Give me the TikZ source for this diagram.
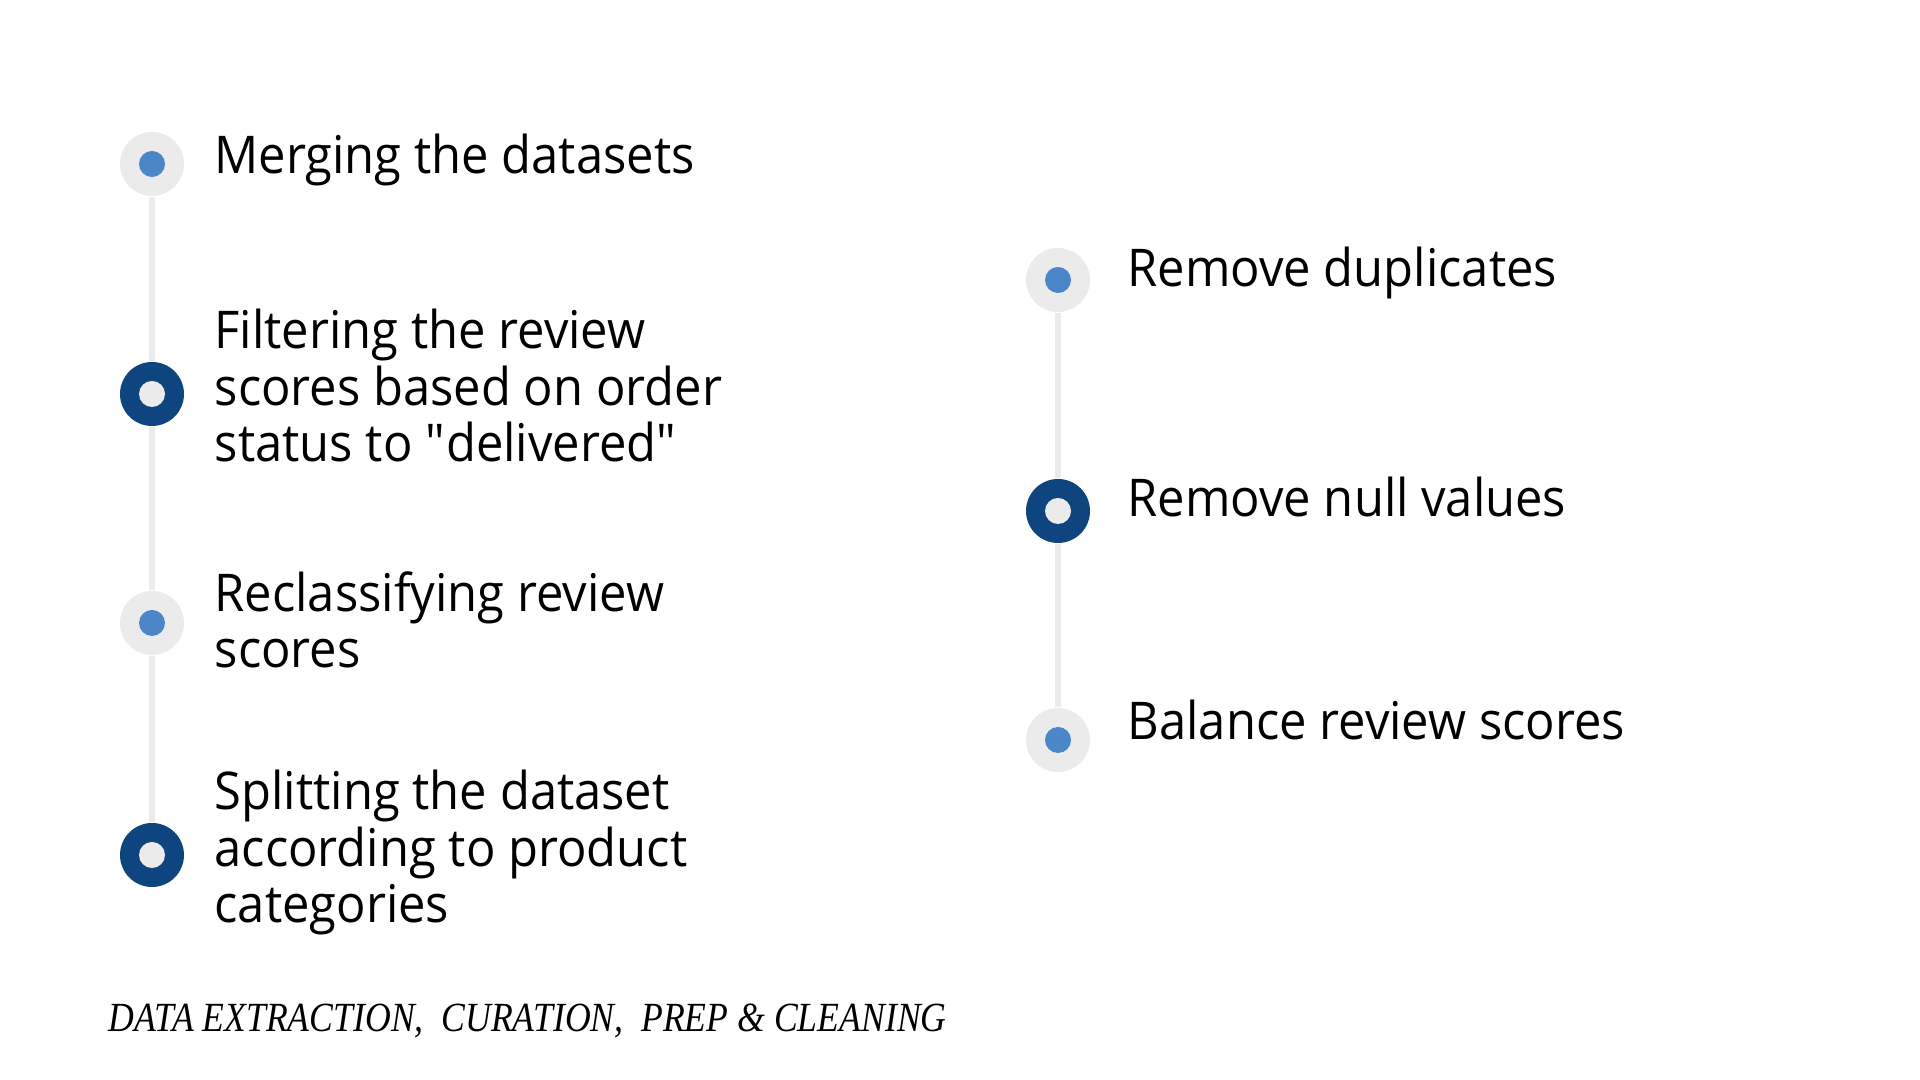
\documentclass[tikz,border=0pt]{standalone}
\usepackage{fontspec}
\usepackage{xcolor}
\usepackage{tikz}
\setmainfont{Open Sans}[FakeStretch=0.94]
\newfontfamily\capfont{Liberation Serif}[FakeStretch=0.86]

\definecolor{ringgray}{HTML}{EBEBEB}
\definecolor{dotblue}{HTML}{4A86C8}
\definecolor{navy}{HTML}{0E457F}

\tikzset{
  dotmark/.style={circle, fill=ringgray, minimum size=6.4mm, inner sep=0pt,
    path picture={\fill [dotblue] (path picture bounding box.center) circle (1.3mm);}},
  ringmark/.style={circle, fill=navy, minimum size=6.4mm, inner sep=0pt,
    path picture={\fill [ringgray] (path picture bounding box.center) circle (1.3mm);}},
  rail/.style={line width=0.6mm, ringgray},
  steptext/.style={anchor=base west, align=left, inner sep=0pt,
    font=\fontsize{14.8pt}{16.2pt}\selectfont}
}

\begin{document}
\begin{tikzpicture}
 \fill [white] (0,0) rectangle (19.2,10.8);
 \useasboundingbox (0,0) rectangle (19.2,10.8);
 % left column
 \node [dotmark]  (merge)  at (1.52, 9.16) {};
 \node [ringmark] (filter) at (1.52, 6.86) {};
 \node [dotmark]  (reclass) at (1.52, 4.57) {};
 \node [ringmark] (split)  at (1.52, 2.25) {};
 \draw [rail] (merge) -- (filter) -- (reclass) -- (split);
 % base of a multi-line text is its last line
 \node [steptext] (mergetxt)   at (2.14, 9.06) {Merging the datasets};
 \node [steptext] (filtertxt)  at (2.14, 6.18) {Filtering the review\\scores based on order\\status to \textquotedbl delivered\textquotedbl};
 \node [steptext] (reclasstxt) at (2.14, 4.12) {Reclassifying review\\scores};
 \node [steptext] (splittxt)   at (2.14, 1.57) {Splitting the dataset\\according to product\\categories};
 % right column
 \node [dotmark]  (dups)    at (10.58, 8.00) {};
 \node [ringmark] (nulls)   at (10.58, 5.69) {};
 \node [dotmark]  (balance) at (10.58, 3.40) {};
 \draw [rail] (dups) -- (nulls) -- (balance);
 \node [steptext] (dupstxt)    at (11.27, 7.93) {Remove duplicates};
 \node [steptext] (nullstxt)   at (11.27, 5.63) {Remove null values};
 \node [steptext] (balancetxt) at (11.27, 3.40) {Balance review scores};
 % caption
 \node [anchor=base west, inner sep=0pt, font=\capfont\itshape\fontsize{11.8pt}{13pt}\selectfont]
   (caption) at (1.08, 0.48) {DATA EXTRACTION,\ \ CURATION,\ \ PREP \& CLEANING};
\end{tikzpicture}
\end{document}
